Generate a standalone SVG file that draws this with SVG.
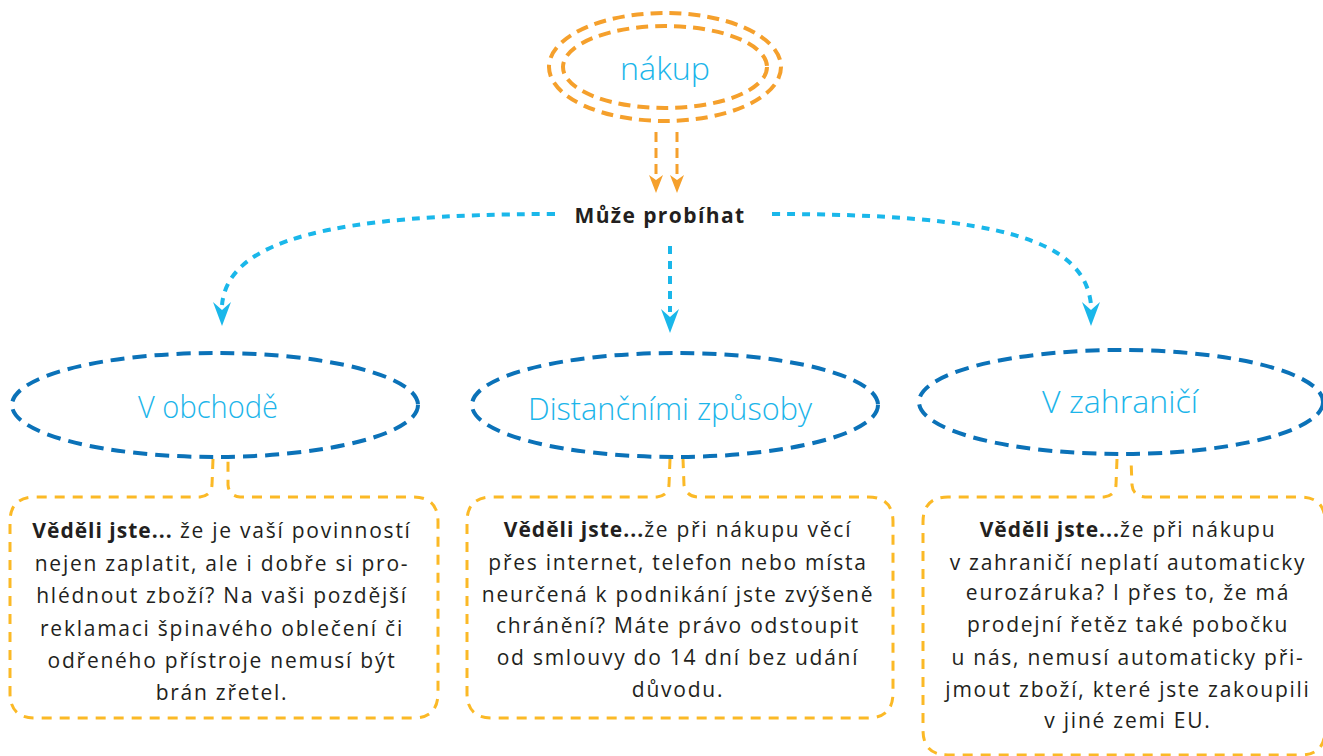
<svg xmlns="http://www.w3.org/2000/svg" width="1323" height="756" viewBox="0 0 1323 756">
<style>
.hand{font-family:"Open Sans","Liberation Sans",sans-serif;font-weight:300;fill:#1cb5ea;text-anchor:middle}
.body{font-family:"Open Sans","Liberation Sans",sans-serif;font-size:21px;fill:#231f20;text-anchor:middle;letter-spacing:1.75px}
.b{font-weight:700;letter-spacing:1px}
.orng{fill:none;stroke:#f5a02c;stroke-width:4;stroke-dasharray:12 7}
.blue{fill:none;stroke:#0b72b8;stroke-width:4;stroke-dasharray:14 8}
.box{fill:none;stroke:#fbb926;stroke-width:3;stroke-dasharray:10 8}
.cy{fill:none;stroke:#1ab7ea;stroke-width:4;stroke-dasharray:8 7}
.cyh{fill:#1ab7ea}
.orl{fill:none;stroke:#f5a02c;stroke-width:3;stroke-dasharray:10 6}
.orh{fill:#f5a02c}
</style>
<g id="nakup">
<ellipse class="orng" cx="665" cy="67" rx="116" ry="54"/>
<ellipse class="orng" cx="665" cy="67" rx="102" ry="41"/>
<text class="hand" x="665" y="80" font-size="32" textLength="90" lengthAdjust="spacingAndGlyphs">nákup</text>
</g>
<g id="muze">
<text x="660" y="223" font-family="Open Sans, Liberation Sans, sans-serif" font-size="21" font-weight="700" fill="#231f20" text-anchor="middle" letter-spacing="1.4">Může probíhat</text>
</g>
<g id="connectors">
<path class="orl" d="M656 132 L656 178"/>
<path class="orl" d="M677 132 L677 178"/>
<path class="orh" d="M656 193 L649 175 L656 180 L663 175 Z"/>
<path class="orh" d="M677 193 L670 175 L677 180 L684 175 Z"/>
<path class="cy" d="M555 214 C 330 214, 228 240, 222 305"/>
<path class="cyh" d="M222 326 L213 302 L222 310 L231 302 Z"/>
<path class="cy" d="M670 246 L670 312"/>
<path class="cyh" d="M670 333 L661 309 L670 317 L679 309 Z"/>
<path class="cy" d="M772 214 C 1000 214, 1085 240, 1091 305"/>
<path class="cyh" d="M1091 326 L1082 302 L1091 310 L1100 302 Z"/>
</g>
<g id="obchod">
<ellipse class="blue" cx="215" cy="405" rx="203" ry="52"/>
<text class="hand" x="208" y="418" font-size="32" textLength="140" lengthAdjust="spacingAndGlyphs">V obchodě</text>
</g>
<g id="distancni">
<ellipse class="blue" cx="675" cy="405" rx="203" ry="52"/>
<text class="hand" x="670" y="420" font-size="32" textLength="284" lengthAdjust="spacingAndGlyphs">Distančními způsoby</text>
</g>
<g id="zahranici">
<ellipse class="blue" cx="1121" cy="402" rx="202" ry="52"/>
<text class="hand" x="1120" y="413" font-size="32" textLength="156" lengthAdjust="spacingAndGlyphs">V zahraničí</text>
</g>
<g id="box1">
<path class="box" d="M213 459 L212 485 Q211 496 200 497 L35 497 Q10 497 10 522 L10 693 Q10 718 35 718 L413 718 Q438 718 438 693 L438 522 Q438 497 413 497 L240 497 Q229 496 228 485 L228 459"/>
<text class="body" x="222" y="538"><tspan class="b">Věděli jste...</tspan> že je vaší povinností</text>
<text class="body" x="222" y="571">nejen zaplatit, ale i dobře si pro-</text>
<text class="body" x="222" y="603">hlédnout zboží? Na vaši pozdější</text>
<text class="body" x="222" y="636">reklamaci špinavého oblečení či</text>
<text class="body" x="222" y="668">odřeného přístroje nemusí být</text>
<text class="body" x="222" y="700">brán zřetel.</text>
</g>
<g id="box2">
<path class="box" d="M670 459 L669 485 Q668 496 657 497 L492 497 Q467 497 467 522 L467 693 Q467 718 492 718 L868 718 Q893 718 893 693 L893 522 Q893 497 868 497 L697 497 Q686 496 684 485 L683 459"/>
<text class="body" x="678" y="537"><tspan class="b">Věděli jste...</tspan>že při nákupu věcí</text>
<text class="body" x="678" y="570">přes internet, telefon nebo místa</text>
<text class="body" x="678" y="602">neurčená k podnikání jste zvýšeně</text>
<text class="body" x="678" y="633">chránění? Máte právo odstoupit</text>
<text class="body" x="678" y="665">od smlouvy do 14 dní bez udání</text>
<text class="body" x="678" y="697">důvodu.</text>
</g>
<g id="box3">
<path class="box" d="M1117 459 L1116 485 Q1115 496 1104 497 L948 497 Q923 497 923 522 L923 730 Q923 755 948 755 L1300 755 Q1325 755 1325 730 L1325 522 Q1325 497 1300 497 L1145 497 Q1133 496 1132 485 L1131 459"/>
<text class="body" x="1128" y="537"><tspan class="b">Věděli jste...</tspan>že při nákupu</text>
<text class="body" x="1128" y="570">v zahraničí neplatí automaticky</text>
<text class="body" x="1128" y="600">eurozáruka? I přes to, že má</text>
<text class="body" x="1128" y="632">prodejní řetěz také pobočku</text>
<text class="body" x="1128" y="665">u nás, nemusí automaticky při-</text>
<text class="body" x="1128" y="697">jmout zboží, které jste zakoupili</text>
<text class="body" x="1128" y="728">v jiné zemi EU.</text>
</g>
</svg>
